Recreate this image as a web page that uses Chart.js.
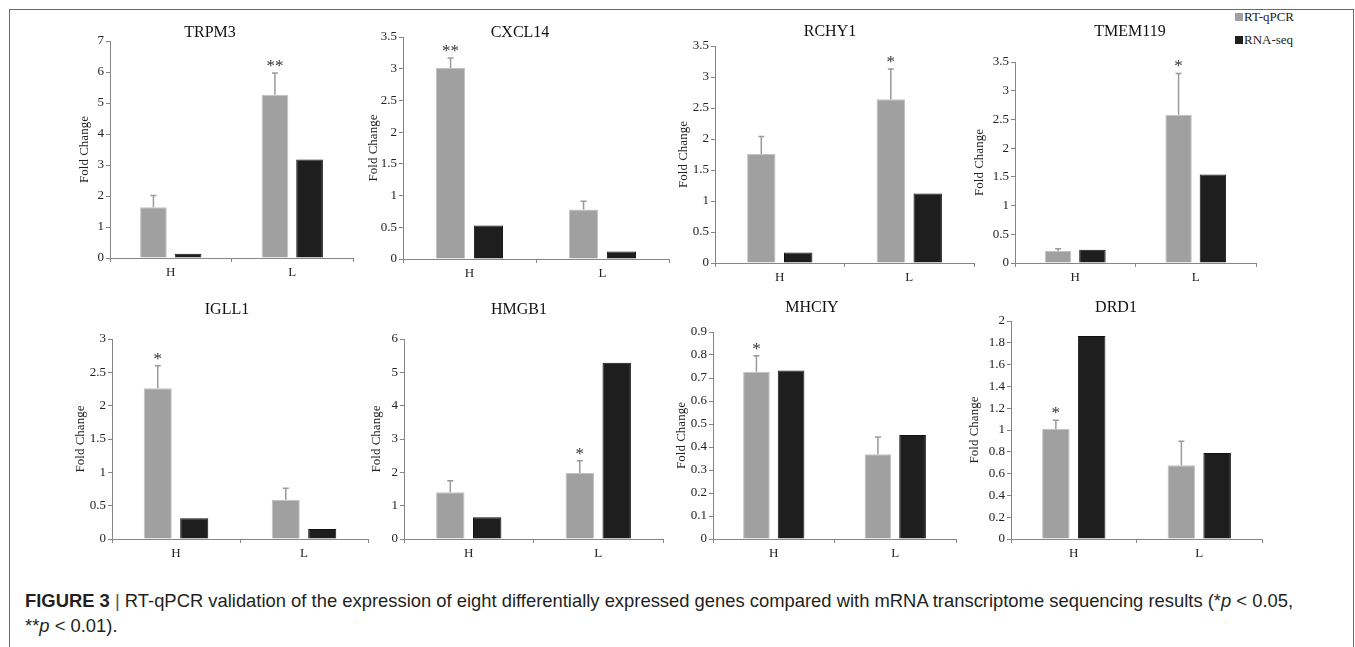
<!DOCTYPE html>
<html>
<head>
<meta charset="utf-8">
<title>RT-qPCR validation</title>
<script src="https://cdn.jsdelivr.net/npm/chart.js@4.4.1/dist/chart.umd.min.js"></script>
<style>
  html, body { margin: 0; padding: 0; background: #fff; }
  #figure { position: relative; width: 1355px; height: 647px; overflow: hidden; }
  #frame { position: absolute; left: 9px; top: 9px; width: 1343px; height: 700px; border: 1px solid #6a6a6a; }
  canvas { position: absolute; }
  #legend { position: absolute; left: 1235px; top: 5px; font: 13px "Liberation Serif", serif; color: #222; }
  #legend .row { display: flex; align-items: center; height: 23px; }
  #legend .box { width: 8px; height: 8px; margin-right: 1px; }
  #caption { position: absolute; left: 25px; top: 588px; font: 18.4px "Liberation Sans", Arial, sans-serif; color: #231f20; line-height: 25px; white-space: nowrap; }
  #caption .sep { color: #555; }
</style>
</head>
<body>
<div id="figure">
  <div id="frame"></div>
  <div id="legend"></div>
  <div id="caption"><b>FIGURE 3</b> <span class="sep">|</span> RT-qPCR validation of the expression of eight differentially expressed genes compared with mRNA transcriptome sequencing results (*<i>p</i> &lt; 0.05,<br>**<i>p</i> &lt; 0.01).</div>
</div>
<script>
// data
const categories = ["H", "L"];
const genes = ["TRPM3", "CXCL14", "RCHY1", "TMEM119", "IGLL1", "HMGB1", "MHCIY", "DRD1"];
const seriesNames = ["RT-qPCR", "RNA-seq"];
const rtqpcr = [[1.64, 5.27], [3.01, 0.78], [1.76, 2.64], [0.21, 2.58], [2.26, 0.59], [1.40, 1.98], [0.727, 0.368], [1.01, 0.676]];
const rtqpcrErr = [[0.38, 0.70], [0.16, 0.13], [0.28, 0.49], [0.04, 0.72], [0.34, 0.17], [0.35, 0.37], [0.07, 0.075], [0.08, 0.22]];
const rnaseq = [[0.14, 3.18], [0.53, 0.12], [0.17, 1.12], [0.23, 1.54], [0.31, 0.15], [0.65, 5.29], [0.733, 0.452], [1.862, 0.79]];
const stars = [["", "**"], ["**", ""], ["", "*"], ["", "*"], ["*", ""], ["", "*"], ["*", ""], ["*", ""]];
const yMax = [7, 3.5, 3.5, 3.5, 3, 6, 0.9, 2];
const yStep = [1, 0.5, 0.5, 0.5, 0.5, 1, 0.1, 0.2];

// where each panel's plot area sits on the page
const panels = [
  { L: 110, R: 353, T: 41, B: 258, tx: 210, ty: 33, gap: 25 },
  { L: 403, R: 669, T: 37, B: 259, tx: 520, ty: 33, gap: 29 },
  { L: 715, R: 974, T: 46, B: 263, tx: 830, ty: 32, gap: 31 },
  { L: 1015, R: 1256, T: 62, B: 263, tx: 1130, ty: 32, gap: 35 },
  { L: 112, R: 368, T: 339, B: 539, tx: 227, ty: 310, gap: 31 },
  { L: 404, R: 663, T: 339, B: 539, tx: 519, ty: 310, gap: 27 },
  { L: 713, R: 956, T: 332, B: 539, tx: 812, ty: 308, gap: 31 },
  { L: 1011, R: 1262, T: 321, B: 539, tx: 1116, ty: 308, gap: 36 }
];

const SERIF = "'Liberation Serif', 'Times New Roman', serif";
const GRAY = "#a0a0a0";
const BLACK = "#1e1e1e";
const AXIS = "#868686";
const YW = 45, XH = 27, PT = 40, PR = 10;
const LABEL_SIZE = 13;

// error bars + significance stars on the RT-qPCR bars, and the panel title
const decorPlugin = {
  id: "decor",
  afterDatasetsDraw(chart, args, opts) {
    const ctx = chart.ctx;
    const ds = chart.data.datasets[0];
    const meta = chart.getDatasetMeta(0);
    const y = chart.scales.y;
    ctx.save();
    meta.data.forEach(function (bar, j) {
      const top = y.getPixelForValue(ds.data[j] + ds.errors[j]);
      ctx.strokeStyle = "#9a9a9a";
      ctx.lineWidth = 1.5;
      ctx.beginPath();
      ctx.moveTo(bar.x, bar.y);
      ctx.lineTo(bar.x, top);
      ctx.moveTo(bar.x - 3, top);
      ctx.lineTo(bar.x + 3, top);
      ctx.stroke();
      if (ds.stars[j]) {
        ctx.fillStyle = "#333";
        ctx.font = "17px " + SERIF;
        ctx.textAlign = "center";
        ctx.textBaseline = "alphabetic";
        ctx.fillText(ds.stars[j], bar.x, top - 2);
      }
    });
    ctx.restore();
  },
  afterDraw(chart, args, opts) {
    const ctx = chart.ctx;
    ctx.save();
    ctx.fillStyle = "#111";
    ctx.font = "16px " + SERIF;
    ctx.textAlign = "center";
    ctx.textBaseline = "middle";
    ctx.fillText(opts.text, opts.x, opts.y);
    ctx.restore();
  }
};

const fig = document.getElementById("figure");

panels.forEach(function (p, i) {
  const left = p.L - YW;
  const top = p.T - PT;
  const w = p.R - p.L + YW + PR;
  const h = p.B - p.T + PT + XH;
  const canvas = document.createElement("canvas");
  canvas.width = w;
  canvas.height = h;
  canvas.style.left = left + "px";
  canvas.style.top = top + "px";
  canvas.style.width = w + "px";
  canvas.style.height = h + "px";
  fig.appendChild(canvas);

  new Chart(canvas.getContext("2d"), {
    type: "bar",
    data: {
      labels: categories,
      datasets: [{
        label: seriesNames[0],
        data: rtqpcr[i],
        errors: rtqpcrErr[i],
        stars: stars[i],
        backgroundColor: GRAY,
        borderColor: "#c2c2c2",
        borderWidth: 1
      }, {
        label: seriesNames[1],
        data: rnaseq[i],
        backgroundColor: BLACK,
        borderColor: "#111",
        borderWidth: 1
      }]
    },
    options: {
      responsive: false,
      animation: false,
      devicePixelRatio: 1,
      layout: { padding: { top: PT, right: PR, left: 0, bottom: 0 } },
      datasets: { bar: { categoryPercentage: 0.57, barPercentage: 0.77 } },
      plugins: {
        legend: { display: false },
        tooltip: { enabled: false },
        decor: { text: genes[i], x: p.tx - left, y: p.ty - top }
      },
      scales: {
        x: {
          grid: { drawOnChartArea: false, tickLength: 4, color: AXIS, offset: true },
          border: { color: AXIS },
          ticks: { color: "#222", font: { family: SERIF, size: LABEL_SIZE }, padding: 3 },
          afterFit: function (s) { s.height = XH; }
        },
        y: {
          min: 0,
          max: yMax[i],
          grid: { drawOnChartArea: false, tickLength: 4, color: AXIS },
          border: { color: AXIS },
          ticks: {
            stepSize: yStep[i],
            color: "#222",
            font: { family: SERIF, size: LABEL_SIZE },
            padding: 2,
            callback: function (v) { return String(parseFloat(v.toFixed(2))); }
          },
          title: {
            display: true,
            text: "Fold Change",
            color: "#222",
            font: { family: SERIF, size: LABEL_SIZE },
            padding: { top: YW - p.gap - LABEL_SIZE * 0.6, bottom: 0 }
          },
          afterFit: function (s) { s.width = YW; }
        }
      }
    },
    plugins: [decorPlugin]
  });
});

// legend built from the series names and colours
const legend = document.getElementById("legend");
[GRAY, BLACK].forEach(function (c, k) {
  const row = document.createElement("div");
  row.className = "row";
  const box = document.createElement("span");
  box.className = "box";
  box.style.background = c;
  row.appendChild(box);
  row.appendChild(document.createTextNode(seriesNames[k]));
  legend.appendChild(row);
});
</script>
</body>
</html>
